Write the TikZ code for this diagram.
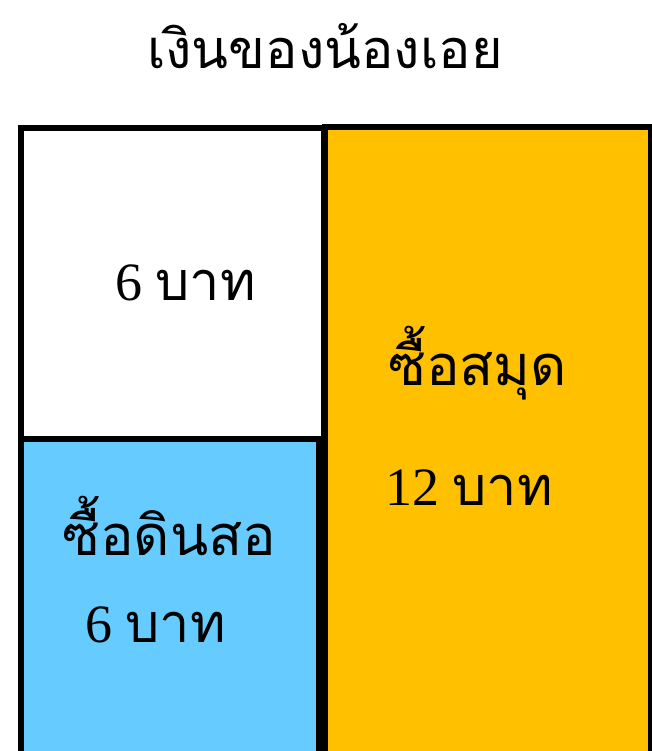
\documentclass[tikz,border=0pt]{standalone}
\usepackage{fontspec}
\setmainfont{Liberation Serif}
\newfontfamily\thai[Script=Thai]{Loma}
\definecolor{orangefill}{RGB}{255,192,0}
\definecolor{bluefill}{RGB}{102,204,255}
\begin{document}
\begin{tikzpicture}[x=1pt,y=-1pt,
  box/.style={draw=black,line width=6pt},
  lbl/.style={anchor=base west,inner sep=0pt,font=\fontsize{56}{60}\selectfont},
  numlbl/.style={lbl,font=\fontsize{54}{58}\selectfont}]
\useasboundingbox (0,0) rectangle (652,751);
\clip (0,0) rectangle (652,751);
\fill[white] (0,0) rectangle (652,751);
\node[anchor=base,inner sep=0pt,font=\fontsize{54}{58}\selectfont] (title) at (325,69) {\thai เงินของน้องเอย};
\draw[box,fill=white] (21,128.5) rectangle (324,780);
\draw[box,fill=bluefill] (21,439) rectangle (319,780);
\draw[box,fill=orangefill] (325,127.5) rectangle (651,780);
\node[numlbl] (a) at (115,300) {6 {\thai บาท}};
\node[lbl] (b) at (388,385) {\thai ซื้อสมุด};
\node[numlbl] (c) at (385,505) {12 {\thai บาท}};
\node[lbl] (d) at (62,555) {\thai ซื้อดินสอ};
\node[numlbl] (e) at (85,642) {6 {\thai บาท}};
\end{tikzpicture}
\end{document}
